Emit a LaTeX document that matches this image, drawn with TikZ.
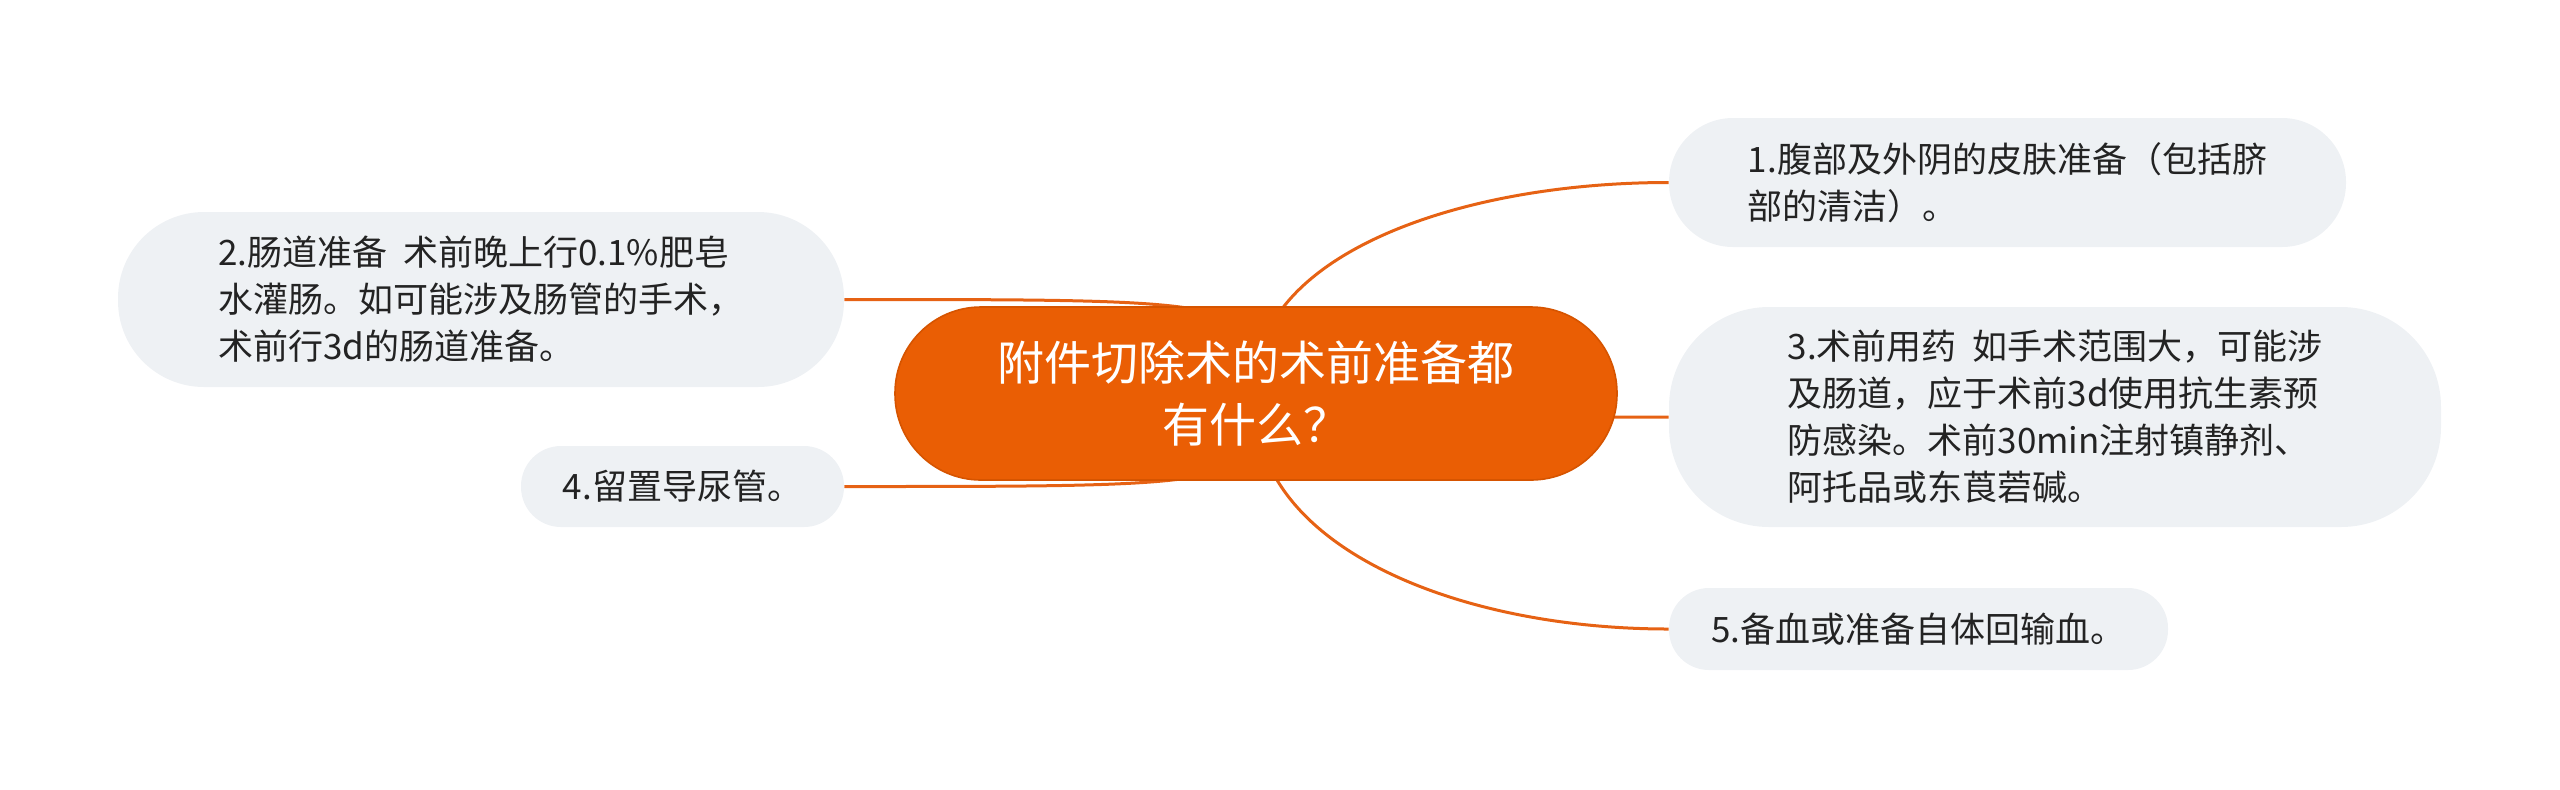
\documentclass[tikz,border=0pt]{standalone}
\usepackage{fontspec}
\usepackage{xcolor}
\usepackage{tikz}
\usetikzlibrary{positioning,%
  backgrounds,%
  calc
}
\newfontfamily\cjk{Noto Sans CJK SC}
\definecolor{rootorange}{RGB}{234,94,4}
\definecolor{rootedge}{RGB}{214,84,0}
\definecolor{linkorange}{RGB}{230,98,20}
\definecolor{leafgray}{RGB}{238,241,244}
\definecolor{leaftext}{RGB}{35,35,35}

\begin{document}
\begin{tikzpicture}
                    [x=0.5pt, y=-0.5pt,
                    root/.style={rectangle,
                        rounded corners=43pt,
                        minimum width=361pt, minimum height=86.5pt,
                        inner sep=0pt, align=center,
                        fill=rootorange, draw=rootedge, line width=0.8pt,
                        text=white,
                        font=\cjk\fontsize{23.5pt}{31pt}\selectfont},
                    leaf/.style={rectangle,
                        inner sep=0pt, align=left,
                        fill=leafgray, draw=none,
                        text=leaftext,
                        font=\cjk\fontsize{17.5pt}{23.5pt}\selectfont},
                    link/.style={draw=linkorange, line width=1.5pt}]

                    \useasboundingbox (0,0) rectangle (2560,789);

                    \node[root] at (1256,393.5)
                        (root) {附件切除术的术前准备都\\有什么？};

                    \node[leaf, minimum width=338.5pt, minimum height=64.5pt,
                        rounded corners=32pt] at (2007.5,182.5)
                        (skin) {1.腹部及外阴的皮肤准备（包括脐\\部的清洁）。};
                    \node[leaf, minimum width=386pt, minimum height=110pt,
                        rounded corners=50pt] at (2055,417)
                        (drug) {3.术前用药~~如手术范围大，可能涉\\及肠道，应于术前3d使用抗生素预\\防感染。术前30min注射镇静剂、\\阿托品或东莨菪碱。};
                    \node[leaf, minimum width=249.5pt, minimum height=41pt,
                        rounded corners=20pt] at (1918.5,629)
                        (blood) {5.备血或准备自体回输血。};
                    \node[leaf, minimum width=363pt, minimum height=87.5pt,
                        rounded corners=43pt] at (481,299.5)
                        (bowel) {2.肠道准备~~术前晚上行0.1\%肥皂\\水灌肠。如可能涉及肠管的手术，\\术前行3d的肠道准备。};
                    \node[leaf, minimum width=161.5pt, minimum height=40.5pt,
                        rounded corners=20pt] at (682.5,486.5)
                        (cath) {4.留置导尿管。};

                    % branches run under the root
                    \begin{scope}[on background layer]
                    \draw[link] (root.center) .. controls +(-10,-133) and +(-219,0) .. (skin.west);
                    \draw[link] (root.center) .. controls +(-10,148) and +(-219,0) .. (blood.west);
                    \foreach \leaf/\side in {drug/west,bowel/east,cath/east}
                        \draw[link] (root.center)
                            .. controls (root.center |- \leaf.\side) .. (\leaf.\side);
                    \end{scope}
                \end{tikzpicture}
\end{document}
